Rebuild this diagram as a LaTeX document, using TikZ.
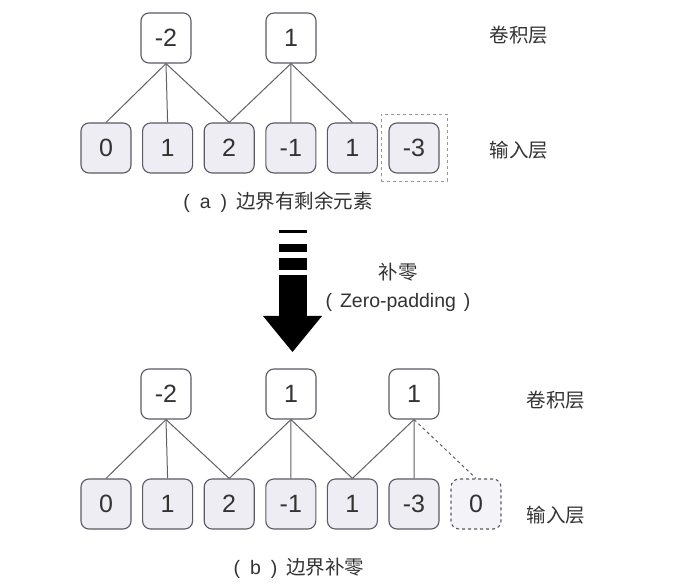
\documentclass[tikz,border=0pt]{standalone}
\usepackage{fontspec}
\setmainfont{Liberation Sans}
\newfontfamily\cjk{Noto Sans CJK SC}
\begin{document}
\begin{tikzpicture}[x=1pt,y=-1pt,
  cell/.style={draw=boxline,line width=1.1pt,rounded corners=8pt,minimum width=50pt,minimum height=50pt,inner sep=0pt,font=\fontsize{25}{25}\selectfont,text=txt},
  incell/.style={cell,fill=boxfill},
  outcell/.style={cell,fill=white},
  link/.style={draw=linec,line width=1pt},
  lab/.style={font=\cjk\fontsize{19.5}{19.5}\selectfont,text=txt,inner sep=0pt},
]
\definecolor{boxline}{HTML}{5A5A66}
\definecolor{boxfill}{HTML}{EDEDF3}
\definecolor{linec}{HTML}{606068}
\definecolor{txt}{HTML}{333333}
\useasboundingbox (0,0) rectangle (681,585);
\fill[white] (0,0) rectangle (681,585);

% ---- (a) ----
\foreach \v [count=\i] in {0,1,2,-1,1,-3}{
  \node[incell] (a\i) at ({106+61.6*(\i-1)},148) {\v};
}
\node[outcell] (ta1) at (166,38) {-2};
\node[outcell] (ta2) at (291,38) {1};
\draw[link] (ta1.south) -- (a1.north);
\draw[link] (ta1.south) -- (a2.north);
\draw[link] (ta1.south) -- (a3.north);
\draw[link] (ta2.south) -- (a3.north);
\draw[link] (ta2.south) -- (a4.north);
\draw[link] (ta2.south) -- (a5.north);
\node[draw=gray!80,dashed,line width=0.8pt,minimum width=66pt,minimum height=67pt,inner sep=0pt] (da) at (a6) {};
\node[lab] (capa) at (278,202) {{\rmfamily(\hspace{10pt}a\hspace{10pt})}\hspace{9pt}边界有剩余元素};
\node[lab] (la1) at (519,35) {卷积层};
\node[lab] (la2) at (519,150) {输入层};

% ---- arrow ----
\fill[black] (279,230) rectangle (307,233.5);
\fill[black] (279,244) rectangle (307,252);
\fill[black] (279,258) rectangle (307,270);
\fill[black] (279,275) rectangle (307,317);
\fill[black] (263,316) -- (322,316) -- (292.5,352) -- cycle;
\node[lab] (zp1) at (398,272) {补零};
\node[font=\fontsize{19.5}{19.5}\selectfont,text=txt,inner sep=0pt] (zp2) at (398,302) {(\hspace{8pt}Zero-padding\hspace{8pt})};

% ---- (b) ----
\foreach \v [count=\i] in {0,1,2,-1,1,-3}{
  \node[incell] (b\i) at ({106+61.6*(\i-1)},504) {\v};
}
\node[cell,fill=boxfill!60,dashed] (b7) at (476,504) {0};
\node[outcell] (tb1) at (166,394) {-2};
\node[outcell] (tb2) at (291,394) {1};
\node[outcell] (tb3) at (414,394) {1};
\draw[link] (tb1.south) -- (b1.north);
\draw[link] (tb1.south) -- (b2.north);
\draw[link] (tb1.south) -- (b3.north);
\draw[link] (tb2.south) -- (b3.north);
\draw[link] (tb2.south) -- (b4.north);
\draw[link] (tb2.south) -- (b5.north);
\draw[link] (tb3.south) -- (b5.north);
\draw[link] (tb3.south) -- (b6.north);
\draw[link,dashed] (tb3.south) -- (b7.north);
\node[lab] (capb) at (299,568) {{\rmfamily(\hspace{10pt}b\hspace{10pt})}\hspace{9pt}边界补零};
\node[lab] (lb1) at (556,400) {卷积层};
\node[lab] (lb2) at (556,515) {输入层};
\end{tikzpicture}
\end{document}
